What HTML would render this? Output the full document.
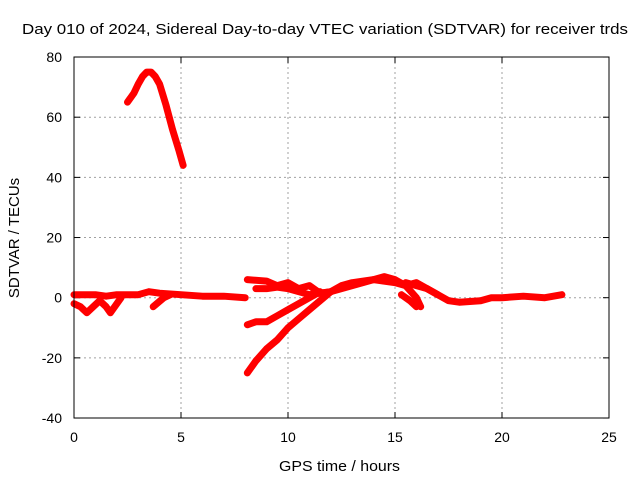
<!DOCTYPE html>
<html><head><meta charset="utf-8"><style>
body{margin:0;background:#fff}
svg{display:block;font-family:"Liberation Sans",sans-serif}
</style></head><body>
<svg id="chart" width="640" height="480" viewBox="0 0 640 480">
<rect width="640" height="480" fill="#fff"/>
<text x="22" y="34" font-size="15" textLength="606" lengthAdjust="spacingAndGlyphs">Day 010 of 2024, Sidereal Day-to-day VTEC variation (SDTVAR) for receiver trds</text>
<text x="279" y="471" font-size="15" textLength="121" lengthAdjust="spacingAndGlyphs">GPS time / hours</text>
<text x="19" y="238" font-size="15" text-anchor="middle" transform="rotate(-90 19 238)">SDTVAR / TECUs</text>
<g id="grid"></g><g id="ticks"></g><g id="series"></g>
<rect x="74" y="57" width="535" height="361" fill="none" stroke="#000" stroke-width="1"/>
</svg>
<script>
const xTicks=[0,5,10,15,20,25];
const yTicks=[-40,-20,0,20,40,60,80];
const segX=[
[2.5,2.8,3.0,3.2,3.4,3.6,3.8,4.0,4.3,4.6,4.9,5.1],
[0,0.5,1,1.5,2,3,3.5,4,5,6,7,8],
[0,0.3,0.6,0.9,1.2,1.5,1.7,1.9,2.2],
[3.7,4.2,4.5],
[8.1,9,9.5,10,10.5,11,11.5,12,12.5,13,14,14.5,15,15.5,16,16.5,17,17.5,18,19,19.5,20,21,22,22.8],
[8.5,9,9.5,10,10.5,11,12,13,14,15,15.5,16,16.2],
[8.1,8.5,9,9.5,10,10.5,11,11.5],
[8.1,8.5,9,9.5,10,10.5,11,11.5,12],
[15.3,15.7,16],
[15.5,16,16.5,17]
];
const segY=[
[65,68,71,73.5,75,75,73.5,71,64,56,49,44],
[1,1,1,0.5,1,1,2,1.5,1,0.5,0.5,0],
[-2,-3,-5,-3,-1,-3,-5,-3,0],
[-3,0,1],
[6,5.5,4,5,3,4,1.5,2,4,5,6,7,6,4,5,3,1,-1,-1.5,-1,0,0,0.5,0,1],
[3,3,3.5,3,2,1,2,4,6,5,4,0,-3],
[-9,-8,-8,-6,-4,-2,0,2],
[-25,-21,-17,-14,-10,-7,-4,-1,2],
[1,-1,-3],
[5,4,3,1]
];
const X=h=>74+h*535/25, Y=v=>297.7-v*361/120;
const NS="http://www.w3.org/2000/svg";
const g=document.getElementById('grid'),t=document.getElementById('ticks'),s=document.getElementById('series');
function mk(tag,a,p){const e=document.createElementNS(NS,tag);for(const k in a)e.setAttribute(k,a[k]);p.appendChild(e);return e;}
xTicks.forEach(v=>{const x=X(v);
 if(v>0&&v<25){const l=mk('line',{x1:x,y1:57,x2:x,y2:418,stroke:'#a0a0a0','stroke-dasharray':'2,3'},g);
 
 }
 const tk=mk('text',{x:x,y:442,'font-size':14,'text-anchor':'middle'},t);tk.textContent=v;
 
 
 mk('line',{x1:x,y1:418,x2:x,y2:412,stroke:'#000'},t);mk('line',{x1:x,y1:57,x2:x,y2:63,stroke:'#000'},t);});
yTicks.forEach(v=>{const y=Y(v);
 if(v>-40&&v<80){const l=mk('line',{x1:74,y1:y,x2:609,y2:y,stroke:'#a0a0a0','stroke-dasharray':'2,3'},g);
 
 }
 const tk=mk('text',{x:62,y:y+5,'font-size':14,'text-anchor':'end'},t);tk.textContent=v;
 
 
 mk('line',{x1:74,y1:y,x2:80,y2:y,stroke:'#000'},t);mk('line',{x1:609,y1:y,x2:603,y2:y,stroke:'#000'},t);});
segX.forEach((xs,i)=>{const pts=xs.map((h,j)=>X(h)+','+Y(segY[i][j])).join(' ');
 const p=mk('polyline',{points:pts,fill:'none',stroke:'#f00','stroke-width':7,'stroke-linejoin':'round','stroke-linecap':'round'},s);
 
 });
</script>
</body></html>
